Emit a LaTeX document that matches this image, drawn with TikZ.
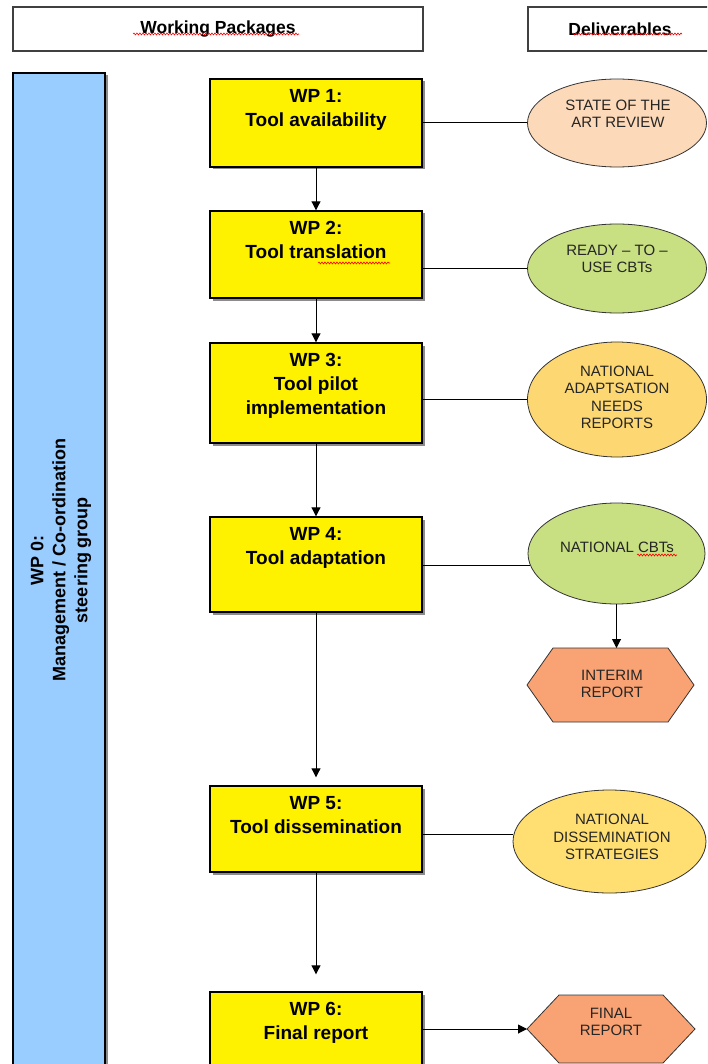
\documentclass[tikz,border=0pt]{standalone}
\usepackage{fontspec}
\setmainfont{Liberation Sans}
\usetikzlibrary{shapes.geometric,arrows.meta,shadows,calc,decorations.pathmorphing}
\definecolor{wpblue}{HTML}{99CCFF}
\definecolor{peach}{HTML}{FCD9B8}
\definecolor{lgreen}{HTML}{C8DF82}
\definecolor{gold}{HTML}{FDD872}
\definecolor{gold2}{HTML}{FFDF72}
\definecolor{hexc}{HTML}{F9A374}
\begin{document}
\begin{tikzpicture}[x=1pt,y=-1pt,
  hdr/.style={draw=black!75, line width=1.5pt, fill=white, inner sep=0,
    font=\fontsize{17.5}{20}\selectfont\bfseries},
  sh/.style={drop shadow={shadow xshift=2.5pt, shadow yshift=-2.5pt, fill=black!45, opacity=1}},
  wpbox/.style={draw=black, line width=1.4pt, fill=yellow, minimum width=212pt, inner sep=0, sh},
  wptext/.style={font=\fontsize{19}{24}\selectfont\bfseries, align=center, inner sep=0, anchor=north},
  deliv/.style={ellipse, draw=black!80, line width=0.8pt, inner sep=0},
  dtext/.style={font=\fontsize{15}{17.5}\selectfont, align=center, inner sep=0, text=black!85},
  flow/.style={-{Triangle[width=9pt,length=9pt]}, line width=1pt},
  link/.style={line width=1pt},
  hexagon/.style={draw=black!80, line width=0.8pt, fill=hexc},
  squiggle/.style={draw=red, line width=0.6pt, decorate, decoration={snake, amplitude=1pt, segment length=3pt}}
]
\useasboundingbox (0,0) rectangle (707,1064);
\clip (0,0) rectangle (707,1064);

% headers
\node[hdr, minimum width=410pt, minimum height=44pt] (h1) at (218,29) {Working Packages};
\node[hdr, minimum width=192pt, minimum height=44pt] (h2) at (624,29) {\hspace*{-8pt}Deliverables};

% WP0 bar
\node[draw=black, line width=1.4pt, fill=wpblue, minimum width=92pt, minimum height=1010pt, inner sep=0, sh] (wp0) at (59,578) {};
\node[rotate=90, font=\fontsize{18}{22}\selectfont\bfseries, align=center, inner sep=0] (wp0t) at (61,560)
  {WP 0:\\Management / Co-ordination\\steering group};

% WP boxes
\node[wpbox, minimum height=88pt] (wp1) at (316,123) {};
\node[wpbox, minimum height=87pt] (wp2) at (316,254.5) {};
\node[wpbox, minimum height=100pt] (wp3) at (316,393) {};
\node[wpbox, minimum height=95pt] (wp4) at (316,564.5) {};
\node[wpbox, minimum height=86pt] (wp5) at (316,829) {};
\node[wpbox, minimum height=88pt] (wp6) at (316,1036) {};

\node[wptext] (wp1t) at ([yshift=-11pt]wp1.north) {WP 1:\\Tool availability};
\node[wptext] (wp2t) at ([yshift=-11pt]wp2.north) {WP 2:\\Tool translation};
\node[wptext] (wp3t) at ([yshift=-11pt]wp3.north) {WP 3:\\Tool pilot\\implementation};
\node[wptext] (wp4t) at ([yshift=-11pt]wp4.north) {WP 4:\\Tool adaptation};
\node[wptext] (wp5t) at ([yshift=-11pt]wp5.north) {WP 5:\\Tool dissemination};
\node[wptext] (wp6t) at ([yshift=-11pt]wp6.north) {WP 6:\\Final report};

% deliverables
\node[deliv, fill=peach, minimum width=179pt, minimum height=88pt] (d1) at (617,123) {};
\node[deliv, fill=lgreen, minimum width=179pt, minimum height=89pt] (d2) at (617,268.5) {};
\node[deliv, fill=gold, minimum width=179pt, minimum height=115pt] (d3) at (617,399.5) {};
\node[deliv, fill=lgreen, minimum width=177pt, minimum height=101pt] (d4) at (616.5,553.5) {};
\node[deliv, fill=gold2, minimum width=193pt, minimum height=103pt] (d5) at (609.5,841.5) {};

\node[dtext] (d1t) at (618,114) {STATE OF THE\\ART REVIEW};
\node[dtext] (d2t) at (617,259) {READY -- TO --\\USE CBTs};
\node[dtext] (d3t) at (617,397.5) {NATIONAL\\ADAPTSATION\\NEEDS\\REPORTS};
\node[dtext] (d4t) at (617,547) {NATIONAL CBTs};
\node[dtext] (d5t) at (612,837) {NATIONAL\\DISSEMINATION\\STRATEGIES};

% hexagons
\coordinate (hx1) at (610.5,685);
\draw[hexagon] ($(hx1)+(-83.5,0)$) -- ($(hx1)+(-57.5,-37)$) -- ($(hx1)+(57.5,-37)$) -- ($(hx1)+(83.5,0)$)
  -- ($(hx1)+(57.5,37)$) -- ($(hx1)+(-57.5,37)$) -- cycle;
\coordinate (hx1n) at ($(hx1)+(0,-37)$);
\node[dtext] (h1t) at (612,684) {INTERIM\\REPORT};

\coordinate (hx2) at (611,1029);
\draw[hexagon] ($(hx2)+(-84,0)$) -- ($(hx2)+(-52,-34)$) -- ($(hx2)+(52,-34)$) -- ($(hx2)+(84,0)$)
  -- ($(hx2)+(52,34)$) -- ($(hx2)+(-52,34)$) -- cycle;
\coordinate (hx2w) at ($(hx2)+(-84,0)$);
\node[dtext] (h2t) at (611,1022) {FINAL\\REPORT};

% flow arrows
\draw[flow] (wp1.south) -- (wp2.north);
\draw[flow] (wp2.south) -- (wp3.north);
\draw[flow] (wp3.south) -- (wp4.north);
\draw[flow, shorten >=8pt] (wp4.south) -- (wp5.north);
\draw[flow, shorten >=17pt] (wp5.south) -- (wp6.north);
\draw[flow] (d4.south) -- (d4.south |- hx1n);
\draw[flow] (hx2w -| wp6.east) -- (hx2w);

% links
\draw[link] (d1.west) -- (d1.west -| wp1.east);
\draw[link] (d2.west) -- (d2.west -| wp2.east);
\draw[link] (d3.west) -- (d3.west -| wp3.east);
\draw[link] (d4.188) -- (d4.188 -| wp4.east);
\draw[link] (d5.176) -- (d5.176 -| wp5.east);

% spell-check squiggles
\draw[squiggle] (133,34) -- (299,34);
\draw[squiggle] (572,34) -- (682,34);
\draw[squiggle] (318,263) -- (390,263);
\draw[squiggle] (637,555) -- (677,555);
\end{tikzpicture}
\end{document}
